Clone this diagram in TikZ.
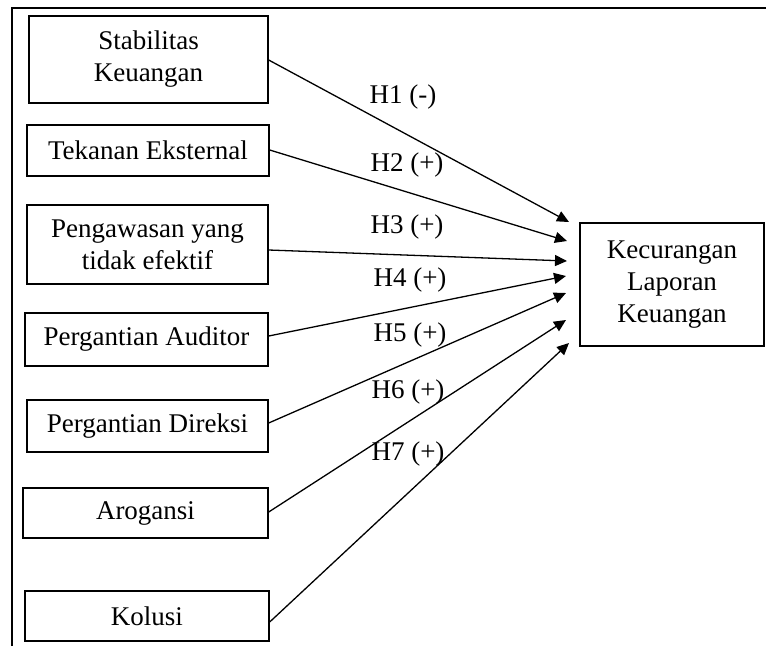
\documentclass[tikz,border=0pt]{standalone}
\usepackage{fontspec}
\setmainfont{Liberation Serif}
\usetikzlibrary{arrows.meta}
\begin{document}
\begin{tikzpicture}[x=1pt,y=-1pt,
  every node/.style={font=\fontsize{27}{32}\selectfont},
  varbox/.style={draw,line width=1.4pt,inner sep=0pt,align=center},
  conn/.style={line width=1.3pt,-{Triangle[length=12pt,width=11pt]}},
  hyp/.style={inner sep=0pt}]
\useasboundingbox (0,0) rectangle (766,646);
\draw[line width=1.7pt] (12,646) -- (12,8) -- (766,8);
\node[varbox,minimum width=239pt,minimum height=87pt] (s1) at (148.5,59.5) {Stabilitas\\Keuangan};
\node[varbox,minimum width=242pt,minimum height=51pt] (s2) at (148,150.5) {Tekanan Eksternal};
\node[varbox,minimum width=241pt,minimum height=79pt] (s3) at (147.5,244.5) {Pengawasan yang\\tidak efektif};
\node[varbox,minimum width=243pt,minimum height=53pt] (s4) at (146.5,339.5) {Pergantian Auditor};
\node[varbox,minimum width=241pt,minimum height=52pt] (s5) at (147.5,426) {Pergantian Direksi};
\node[varbox,minimum width=245pt,minimum height=50pt] (s6) at (145.5,513) {Arogansi};
\node[varbox,minimum width=244pt,minimum height=50pt] (s7) at (147,616) {Kolusi};
\node[varbox,minimum width=184pt,minimum height=123pt] (k) at (672,284.5) {Kecurangan\\Laporan\\Keuangan};
\coordinate (t1) at (569,222);
\coordinate (t2) at (567,241);
\coordinate (t3) at (567,261);
\coordinate (t4) at (566,276);
\coordinate (t5) at (566,293);
\coordinate (t6) at (566,320);
\coordinate (t7) at (569,343);
\draw[conn] ([yshift=-0.5pt]s1.east) -- (t1);
\draw[conn] ([yshift=0.5pt]s2.east) -- (t2);
\draw[conn] ([yshift=-5.5pt]s3.east) -- (t3);
\draw[conn] ([yshift=3.5pt]s4.east) -- (t4);
\draw[conn] ([yshift=3pt]s5.east) -- (t5);
\draw[conn] ([yshift=1pt]s6.east) -- (t6);
\draw[conn] ([yshift=-6pt]s7.east) -- (t7);
\node[hyp] (h1) at (403,97) {H1 (-)};
\node[hyp] (h2) at (407,165) {H2 (+)};
\node[hyp] (h3) at (407,227) {H3 (+)};
\node[hyp] (h4) at (410,280) {H4 (+)};
\node[hyp] (h5) at (410,335) {H5 (+)};
\node[hyp] (h6) at (408,392) {H6 (+)};
\node[hyp] (h7) at (408,454) {H7 (+)};
\end{tikzpicture}
\end{document}
